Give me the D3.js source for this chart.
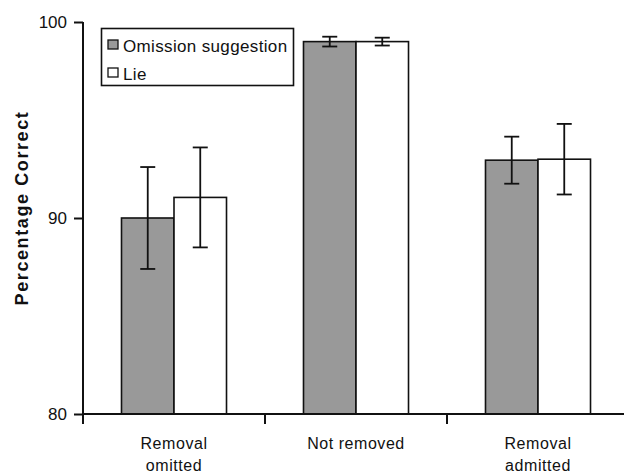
<!DOCTYPE html>
<html lang="en">
<head>
<meta charset="UTF-8">
<title>Percentage Correct</title>
<script src="https://d3js.org/d3.v7.min.js"></script>
<style>
    body { margin: 0; background: #fff; }
    text { font-family: "Liberation Sans", Arial, sans-serif; fill: #111; }
    .bar { stroke: #111; stroke-width: 1.6px; }
    .err line { stroke: #111; stroke-width: 1.8px; }
</style>
</head>
<body>
<svg width="624" height="473"></svg>
<script>
    // data
    var categories = [["Removal", "omitted"], ["Not removed"], ["Removal", "admitted"]];
    var seriesNames = ["Omission suggestion", "Lie"];
    var seriesColors = ["#999999", "#ffffff"];
    var omissionVals = [90.0, 99.0, 92.95];
    var omissionErr  = [2.6, 0.25, 1.2];
    var lieVals      = [91.05, 99.0, 93.0];
    var lieErr       = [2.55, 0.2, 1.8];
    var yTicks = [80, 90, 100];

    var svg = d3.select("svg");
    var plotLeft = 83, plotBottom = 414, plotTop = 22;

    var x0 = d3.scaleBand().domain(d3.range(categories.length))
        .range([plotLeft, plotLeft + 3 * 182]).padding(0);
    var x1 = d3.scaleBand().domain([0, 1])
        .range([0, x0.bandwidth()]).paddingInner(0).paddingOuter(0.733);
    var y = d3.scaleLinear().domain([80, 100]).range([plotBottom, plotTop]);

    var rows = [];
    categories.forEach(function (c, i) {
        rows.push({ cat: i, s: 0, v: omissionVals[i], e: omissionErr[i] });
        rows.push({ cat: i, s: 1, v: lieVals[i], e: lieErr[i] });
    });

    // bars
    svg.append("g").selectAll("rect")
        .data(rows)
        .enter().append("rect")
        .attr("class", "bar")
        .attr("x", function (d) { return x0(d.cat) + x1(d.s); })
        .attr("y", function (d) { return y(d.v); })
        .attr("width", x1.bandwidth())
        .attr("height", function (d) { return y(80) - y(d.v); })
        .attr("fill", function (d) { return seriesColors[d.s]; });

    // error bars
    var err = svg.append("g").attr("class", "err").selectAll("g")
        .data(rows).enter().append("g")
        .attr("transform", function (d) {
            return "translate(" + (x0(d.cat) + x1(d.s) + x1.bandwidth() / 2) + ",0)";
        });
    err.append("line")
        .attr("y1", function (d) { return y(d.v + d.e); })
        .attr("y2", function (d) { return y(d.v - d.e); });
    err.append("line").attr("x1", -7.5).attr("x2", 7.5)
        .attr("y1", function (d) { return y(d.v + d.e); })
        .attr("y2", function (d) { return y(d.v + d.e); });
    err.append("line").attr("x1", -7.5).attr("x2", 7.5)
        .attr("y1", function (d) { return y(d.v - d.e); })
        .attr("y2", function (d) { return y(d.v - d.e); });

    // y axis
    var yAxis = svg.append("g")
        .attr("transform", "translate(" + plotLeft + ",0)")
        .call(d3.axisLeft(y).tickValues(yTicks).tickSize(9).tickPadding(7).tickFormat(d3.format("d")));
    yAxis.select(".domain").attr("d", "M0," + plotTop + "V" + plotBottom);
    yAxis.selectAll("line, path").attr("stroke", "#111").attr("stroke-width", 2);
    yAxis.selectAll("text").attr("font-size", 17).attr("font-family", null);

    // x axis
    var xAxis = svg.append("g")
        .attr("transform", "translate(0," + plotBottom + ")")
        .call(d3.axisBottom(x0).tickSize(0).tickFormat(""));
    xAxis.select(".domain").attr("d", "M" + plotLeft + ",0H624");
    xAxis.selectAll("path").attr("stroke", "#111").attr("stroke-width", 2);
    svg.append("g").selectAll("line")
        .data(d3.range(categories.length))
        .enter().append("line")
        .attr("x1", function (d) { return x0(d); })
        .attr("x2", function (d) { return x0(d); })
        .attr("y1", plotBottom).attr("y2", plotBottom + 10)
        .attr("stroke", "#111").attr("stroke-width", 2);

    svg.append("g").selectAll("text")
        .data(categories)
        .enter().append("text")
        .attr("text-anchor", "middle")
        .attr("font-size", 16)
        .style("letter-spacing", "0.55px")
        .attr("transform", function (d, i) {
            return "translate(" + (x0(i) + x0.bandwidth() / 2) + "," + 449 + ")";
        })
        .selectAll("tspan")
        .data(function (d) { return d; })
        .enter().append("tspan")
        .attr("x", 0)
        .attr("dy", function (d, i) { return i ? 22 : 0; })
        .text(function (d) { return d; });

    // y title
    svg.append("text")
        .attr("transform", "translate(28,208) rotate(-90)")
        .attr("text-anchor", "middle")
        .attr("font-size", 18)
        .attr("font-weight", "bold")
        .style("letter-spacing", "1.6px")
        .text("Percentage Correct");

    // legend
    var legend = svg.append("g");
    legend.append("rect")
        .attr("x", 101.5).attr("y", 28.5).attr("width", 192).attr("height", 57)
        .attr("fill", "#fff").attr("stroke", "#111").attr("stroke-width", 1.6);
    var li = legend.selectAll("g.item")
        .data(seriesNames).enter().append("g")
        .attr("transform", function (d, i) { return "translate(108," + (40 + i * 28) + ")"; });
    li.append("rect")
        .attr("width", 10).attr("height", 9)
        .attr("fill", function (d, i) { return seriesColors[i]; })
        .attr("stroke", "#111").attr("stroke-width", 1.3);
    li.append("text")
        .attr("x", 15).attr("y", 11.5)
        .attr("font-size", 17)
        .style("letter-spacing", "0.35px")
        .text(function (d) { return d; });
</script>
</body>
</html>
